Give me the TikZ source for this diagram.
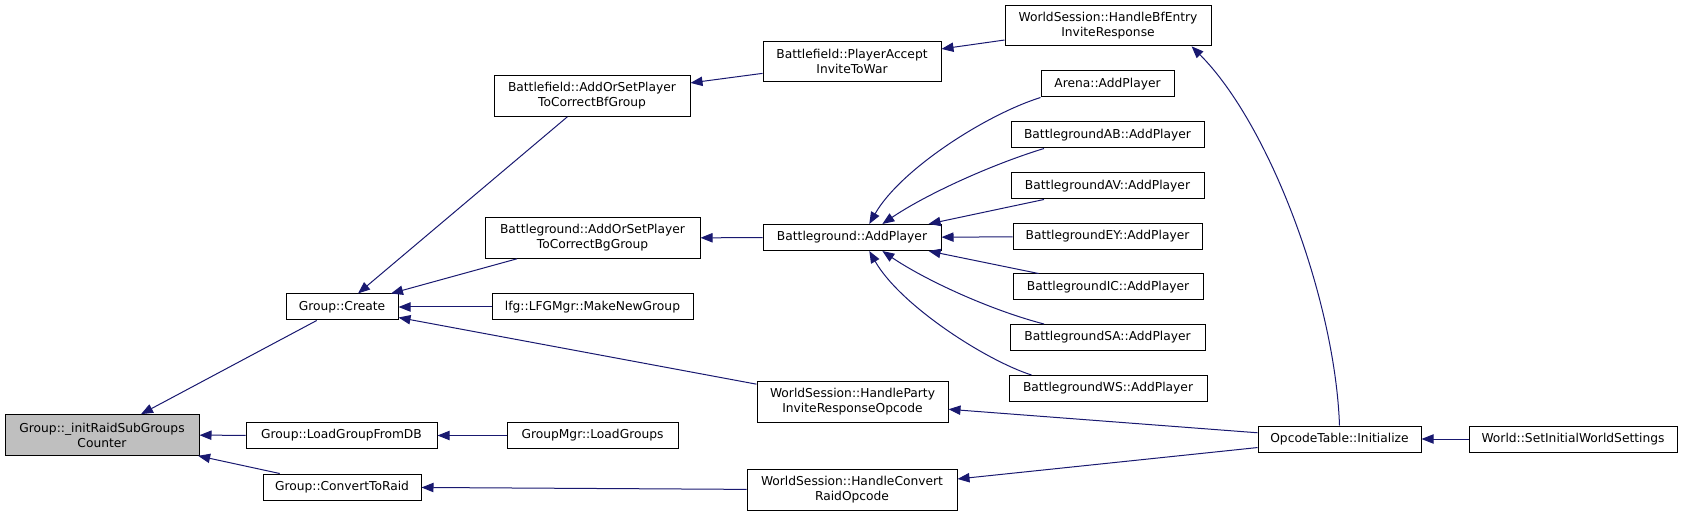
\documentclass[tikz,border=0pt]{standalone}
\usepackage{fontspec}
\setmainfont{DejaVu Sans}
\usepackage{tikz}
\usepackage{xcolor}
\usetikzlibrary{arrows.meta}
\definecolor{callblue}{HTML}{191970}
\definecolor{rootgray}{HTML}{BFBFBF}
\tikzstyle{fn} = [draw, line width=0.75pt, inner sep=0pt, minimum height=19.5pt, align=center, font=\fontsize{9.2}{11.25}\selectfont]
\tikzstyle{fntwo} = [fn, minimum height=30.5pt]
\tikzstyle{call} = [-{Triangle[length=9pt,width=7pt]}, draw=callblue, line width=0.75pt]

\begin{document}
\begin{tikzpicture}[x=0.75pt, y=-0.75pt]
			\useasboundingbox (0,0) rectangle (1681,516);
			\node[fntwo, fill=rootgray, minimum width=145.5pt] (root) at (102,435) {Group::\_initRaidSubGroups\\Counter};
			\node[fn, minimum width=84pt] (create) at (342,307) {Group::Create};
			\node[fn, minimum width=143.25pt] (loaddb) at (341.5,435.5) {Group::LoadGroupFromDB};
			\node[fn, minimum width=118.5pt] (convert) at (342,487) {Group::ConvertToRaid};
			\node[fntwo, minimum width=147pt] (bfadd) at (592,96) {Battlefield::AddOrSetPlayer\\ToCorrectBfGroup};
			\node[fntwo, minimum width=161.25pt] (bgadd) at (592.5,238) {Battleground::AddOrSetPlayer\\ToCorrectBgGroup};
			\node[fn, minimum width=150.75pt] (lfg) at (592.5,307) {lfg::LFGMgr::MakeNewGroup};
			\node[fn, minimum width=128.25pt] (loadgroups) at (592.5,435.5) {GroupMgr::LoadGroups};
			\node[fntwo, minimum width=133.5pt] (accept) at (852,61.5) {Battlefield::PlayerAccept\\InviteToWar};
			\node[fn, minimum width=133.5pt] (bgplayer) at (852,237.5) {Battleground::AddPlayer};
			\node[fntwo, minimum width=143.25pt] (party) at (852.5,402) {WorldSession::HandleParty\\InviteResponseOpcode};
			\node[fntwo, minimum width=157.5pt] (convop) at (852,490) {WorldSession::HandleConvert\\RaidOpcode};
			\node[fntwo, minimum width=154.5pt] (bfentry) at (1108,25.5) {WorldSession::HandleBfEntry\\InviteResponse};
			\node[fn, minimum width=99.75pt] (arena) at (1107.5,84) {Arena::AddPlayer};
			\node[fn, minimum width=144.75pt] (ab) at (1107.5,135) {BattlegroundAB::AddPlayer};
			\node[fn, minimum width=144.75pt] (av) at (1107.5,186) {BattlegroundAV::AddPlayer};
			\node[fn, minimum width=141.75pt] (ey) at (1107.5,236.5) {BattlegroundEY::AddPlayer};
			\node[fn, minimum width=142.5pt] (ic) at (1108,287) {BattlegroundIC::AddPlayer};
			\node[fn, minimum width=146.25pt] (sa) at (1107.5,337.5) {BattlegroundSA::AddPlayer};
			\node[fn, minimum width=148.5pt] (ws) at (1108,388.5) {BattlegroundWS::AddPlayer};
			\node[fn, minimum width=122.25pt] (opcode) at (1339.5,439) {OpcodeTable::Initialize};
			\node[fn, minimum width=156pt] (world) at (1573,439) {World::SetInitialWorldSettings};
			\draw (create) edge[call] (root);
			\draw (loaddb) edge[call] (root);
			\draw (convert) edge[call] (root);
			\draw (bfadd) edge[call] (create);
			\draw (bgadd) edge[call] (create);
			\draw (lfg) edge[call] (create);
			\draw (party) edge[call] (create);
			\draw (loadgroups) edge[call] (loaddb);
			\draw (convop) edge[call] (convert);
			\draw (accept) edge[call] (bfadd);
			\draw (bgplayer) edge[call] (bgadd);
			\draw (bfentry) edge[call] (accept);
			\draw[call] (arena.south west) .. controls (985,115) and (900,170) .. (bgplayer.38);
			\draw[call] (ab.192) .. controls (990,165) and (925,195) .. (bgplayer.24);
			\draw (av.192) edge[call] (bgplayer.10);
			\draw (ey) edge[call] (bgplayer);
			\draw (ic.169) edge[call] (bgplayer.-10);
			\draw[call] (sa.168) .. controls (990,310) and (925,280) .. (bgplayer.-24);
			\draw[call] (ws.170) .. controls (985,360) and (900,305) .. (bgplayer.-38);
			\draw[call] (opcode.north) .. controls (1335,300) and (1270,125) .. (bfentry.-14);
			\draw (opcode) edge[call] (party);
			\draw (opcode) edge[call] (convop);
			\draw (world) edge[call] (opcode);
		\end{tikzpicture}
\end{document}
